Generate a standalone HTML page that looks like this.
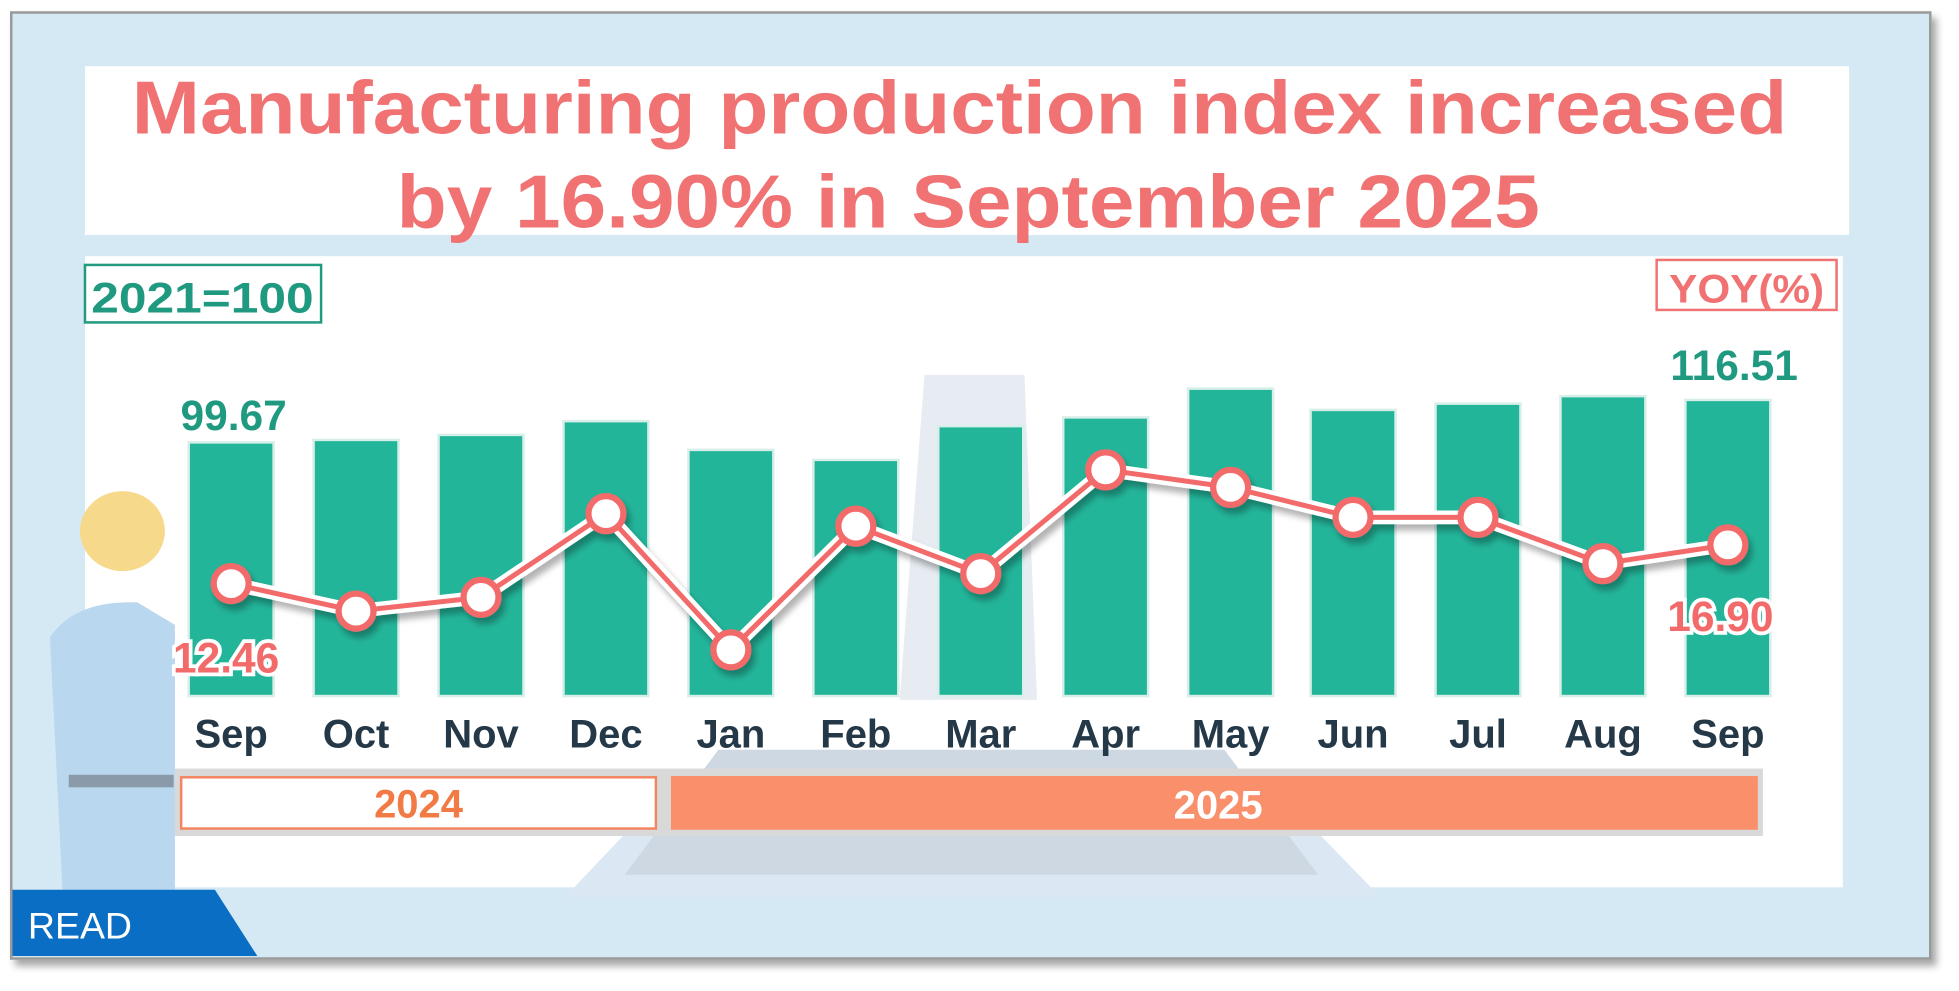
<!DOCTYPE html>
<html><head><meta charset="utf-8"><style>
html,body{margin:0;padding:0;background:#fff;}
svg{display:block;}
text{font-family:"Liberation Sans","DejaVu Sans",sans-serif;font-weight:bold;}
</style></head><body>
<svg width="1959" height="991" viewBox="0 0 1568 793" preserveAspectRatio="none" xmlns="http://www.w3.org/2000/svg">
<defs>
<filter id="sh" x="-10%" y="-10%" width="130%" height="130%"><feDropShadow dx="4" dy="5" stdDeviation="3" flood-color="#000" flood-opacity="0.35"/></filter>
<filter id="ls" x="-10%" y="-10%" width="130%" height="130%"><feDropShadow dx="3" dy="5" stdDeviation="2.5" flood-color="#000" flood-opacity="0.3"/></filter>
</defs>
<rect width="1568" height="793" fill="#fff"/>
<rect x="9" y="10" width="1536" height="757" fill="#d5e9f5" stroke="#9a9a9a" stroke-width="2" filter="url(#sh)"/>
<!-- title -->
<rect x="68" y="53" width="1412" height="135" fill="#fff"/>
<text x="768" y="107" font-size="60" fill="#f07272" text-anchor="middle" textLength="1325" lengthAdjust="spacingAndGlyphs">Manufacturing production index increased</text>
<text x="775" y="182" font-size="60" fill="#f07272" text-anchor="middle" textLength="915" lengthAdjust="spacingAndGlyphs">by 16.90% in September 2025</text>
<!-- chart area -->
<rect x="68" y="205" width="1407" height="505" fill="#fff"/>
<polygon points="452,718 1105,718 1010,620 545,620" fill="#dbe8f3"/>
<polygon points="500,700 1055,700 980,600 575,600" fill="#cdd8e2"/>
<polygon points="720,560 830,560 820,300 740,300" fill="#e6ecf2"/>
<!-- worker -->
<ellipse cx="98" cy="425" rx="34" ry="32" fill="#f6d98a"/>
<path d="M40,510 Q60,480 110,482 L140,500 L140,712 L50,712 Z" fill="#b9d7ee"/>
<rect x="55" y="620" width="84" height="10" fill="#8a9aa8"/>
<rect x="68" y="212" width="189" height="46" fill="#fff" stroke="#219a80" stroke-width="2"/>
<text x="162" y="250" font-size="34" fill="#1f9a80" text-anchor="middle" textLength="178" lengthAdjust="spacingAndGlyphs">2021=100</text>
<rect x="1326" y="208" width="144" height="40" fill="#fff" stroke="#f07272" stroke-width="2"/>
<text x="1398" y="242" font-size="32" fill="#f07272" text-anchor="middle" textLength="124" lengthAdjust="spacingAndGlyphs">YOY(%)</text>
<!-- bars -->
<g fill="#23b59a" stroke="#d8efe9" stroke-width="2">
<rect x="151" y="354" width="68" height="203"/>
<rect x="251" y="352" width="68" height="205"/>
<rect x="351" y="348" width="68" height="209"/>
<rect x="451" y="337" width="68" height="220"/>
<rect x="551" y="360" width="68" height="197"/>
<rect x="651" y="368" width="68" height="189"/>
<rect x="751" y="341" width="68" height="216"/>
<rect x="851" y="334" width="68" height="223"/>
<rect x="951" y="311" width="68" height="246"/>
<rect x="1049" y="328" width="68" height="229"/>
<rect x="1149" y="323" width="68" height="234"/>
<rect x="1249" y="317" width="68" height="240"/>
<rect x="1349" y="320" width="68" height="237"/>
</g>
<text x="187" y="344" font-size="34" fill="#1f9a80" text-anchor="middle">99.67</text>
<text x="1388" y="304" font-size="34" fill="#1f9a80" text-anchor="middle">116.51</text>
<!-- line -->
<g filter="url(#ls)">
<polyline points="185,467 285,489 385,478 485,411 585,520 685,421 785,459 885,376 985,390 1083,414 1183,414 1283,451 1383,436" fill="none" stroke="#fff" stroke-width="11"/>
<polyline points="185,467 285,489 385,478 485,411 585,520 685,421 785,459 885,376 985,390 1083,414 1183,414 1283,451 1383,436" fill="none" stroke="#f26a6a" stroke-width="4"/>
<g fill="#fff" stroke="#f26a6a" stroke-width="5">
<circle cx="185" cy="467" r="14"/><circle cx="285" cy="489" r="14"/><circle cx="385" cy="478" r="14"/><circle cx="485" cy="411" r="14"/><circle cx="585" cy="520" r="14"/><circle cx="685" cy="421" r="14"/><circle cx="785" cy="459" r="14"/><circle cx="885" cy="376" r="14"/><circle cx="985" cy="390" r="14"/><circle cx="1083" cy="414" r="14"/><circle cx="1183" cy="414" r="14"/><circle cx="1283" cy="451" r="14"/><circle cx="1383" cy="436" r="14"/>
</g></g>
<g font-size="34" fill="#f26a6a" text-anchor="middle" stroke="#fff" stroke-width="6" paint-order="stroke">
<text x="181" y="538">12.46</text>
<text x="1377" y="505">16.90</text>
</g>
<!-- months -->
<g font-size="32" fill="#243848" text-anchor="middle" font-weight="normal" style="font-weight:normal">
<text x="185" y="598">Sep</text><text x="285" y="598">Oct</text><text x="385" y="598">Nov</text><text x="485" y="598">Dec</text><text x="585" y="598">Jan</text><text x="685" y="598">Feb</text><text x="785" y="598">Mar</text><text x="885" y="598">Apr</text><text x="985" y="598">May</text><text x="1083" y="598">Jun</text><text x="1183" y="598">Jul</text><text x="1283" y="598">Aug</text><text x="1383" y="598">Sep</text>
</g>
<!-- years -->
<rect x="140" y="615" width="1271" height="54" fill="#d9d9d9"/>
<rect x="145" y="622" width="380" height="41" fill="#fff" stroke="#f48560" stroke-width="2"/>
<rect x="537" y="621" width="870" height="43" fill="#fa8f6b"/>
<text x="335" y="654" font-size="32" fill="#f27a45" text-anchor="middle">2024</text>
<text x="975" y="655" font-size="32" fill="#fff" text-anchor="middle">2025</text>
<!-- READ -->
<polygon points="10,712 172,712 206,765 10,765" fill="#0a6fc4"/>
<text x="64" y="751" font-size="30" fill="#fff" text-anchor="middle" style="font-weight:normal">READ</text>
</svg>
</body></html>
